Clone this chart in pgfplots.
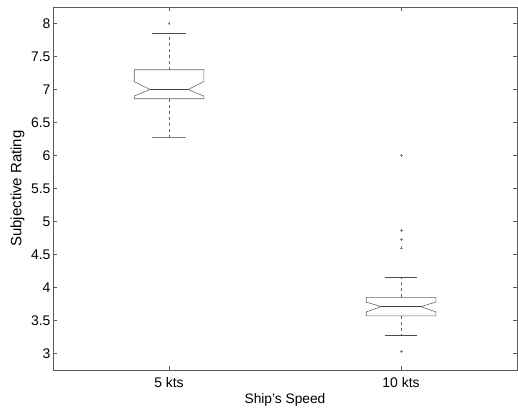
\documentclass[border=0pt]{standalone}
\usepackage{pgfplots}
\pgfplotsset{compat=1.18}
\usepackage{fontspec}
\setmainfont{Liberation Sans}
\begin{document}
\begin{tikzpicture}[x=1bp,y=1bp]
\path (-53,-40) rectangle (465,370);
\begin{axis}[
  at={(0,0)}, anchor=south west,
  scale only axis, width=464bp, height=363bp,
  xmin=0.5, xmax=2.5, ymin=2.75, ymax=8.25,
  xtick={1,2}, xticklabels={5 kts,10 kts},
  ytick={3,3.5,4,4.5,5,5.5,6,6.5,7,7.5,8},
  tick align=inside, major tick length=4bp,
  axis line style={black!65, line width=0.5pt},
  tick style={black!65},
  /pgf/number format/assume math mode=true,
  ticklabel style={font=\fontsize{14}{16}\selectfont},
  xticklabel style={anchor=center, yshift=-13bp},
  yticklabel style={anchor=east, xshift=1bp},
  xlabel={Ship's Speed}, ylabel={Subjective Rating},
  xlabel style={font=\fontsize{13.8}{16}\selectfont, at={(axis description cs:0.5,-0.0826)}, anchor=center},
  ylabel style={font=\fontsize{15}{17}\selectfont, at={(axis description cs:-0.0765,0.5)}, anchor=center},
  clip=false,
]
% box 1 (notched outline)
\addplot[black!60, line width=0.6pt] coordinates {
 (0.85,7.30) (1.15,7.30) (1.15,7.12) (1.082,7.00) (1.15,6.90) (1.15,6.86)
 (0.85,6.86) (0.85,6.90) (0.918,7.00) (0.85,7.12) (0.85,7.30)};
\addplot[black!75, line width=0.7pt] coordinates {(0.918,7.00) (1.082,7.00)};
\addplot[black!60, dashed, line width=0.5pt] coordinates {(1,7.30) (1,7.85)};
\addplot[black!60, dashed, line width=0.5pt] coordinates {(1,6.86) (1,6.28)};
\addplot[black!70, line width=0.9pt] coordinates {(0.925,7.85) (1.075,7.85)};
\addplot[black!50, line width=0.6pt] coordinates {(0.925,6.28) (1.075,6.28)};
\addplot[only marks, mark=+, mark size=1.5pt, black!50] coordinates {(1,8.0)};
% box 2 (notched outline)
\addplot[black!60, line width=0.6pt] coordinates {
 (1.85,3.85) (2.15,3.85) (2.15,3.78) (2.086,3.71) (2.15,3.63) (2.15,3.57)
 (1.85,3.57) (1.85,3.63) (1.914,3.71) (1.85,3.78) (1.85,3.85)};
\addplot[black!75, line width=0.7pt] coordinates {(1.914,3.71) (2.086,3.71)};
\addplot[black!60, dashed, line width=0.5pt] coordinates {(2,3.85) (2,4.15)};
\addplot[black!60, dashed, line width=0.5pt] coordinates {(2,3.57) (2,3.27)};
\addplot[black!70, line width=0.7pt] coordinates {(1.93,4.15) (2.07,4.15)};
\addplot[black!70, line width=0.7pt] coordinates {(1.93,3.27) (2.07,3.27)};
\addplot[only marks, mark=+, mark size=1.5pt, black!50] coordinates {
 (2,6.0) (2,4.87) (2,4.73) (2,4.60) (2,3.03)};
\end{axis}
\end{tikzpicture}
\end{document}
